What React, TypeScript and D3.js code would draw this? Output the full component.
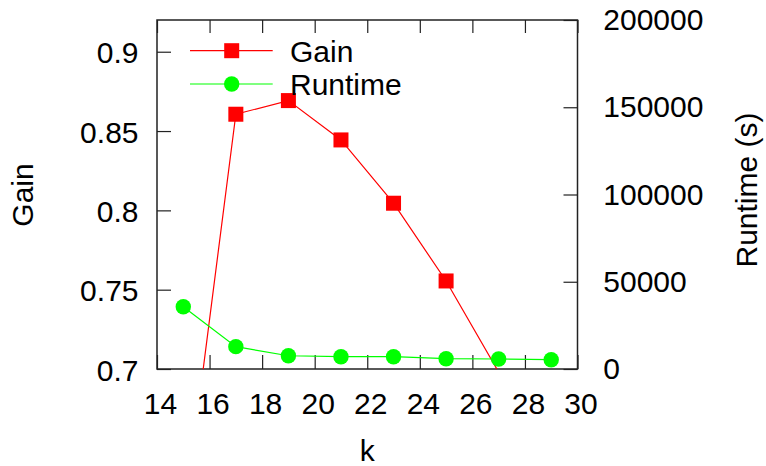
import { useEffect, useRef } from "react";
import * as d3 from "d3";

const kValues = [15, 17, 19, 21, 23, 25, 27, 29];
const gainValues = [0.602, 0.8606, 0.8692, 0.8444, 0.8045, 0.7555, 0.698, 0.65];
const runtimeValues = [35700, 12800, 7600, 7050, 7050, 5900, 5730, 5330];
const xTicks = [14, 16, 18, 20, 22, 24, 26, 28, 30];
const gainTicks = [0.7, 0.75, 0.8, 0.85, 0.9];
const runtimeTicks = [0, 50000, 100000, 150000, 200000];
const seriesNames = ["Gain", "Runtime"];

const FONT = "'Liberation Sans', Arial, Helvetica, sans-serif";
const FS = 30;

function App() {
  const ref = useRef<SVGSVGElement>(null);

  useEffect(() => {
    const svg = d3.select(ref.current);
    svg.selectAll("*").remove();
    const width = 766;
    const height = 466;
    const margin = { top: 20, right: 188.5, bottom: 97, left: 157 };
    const plotW = width - margin.left - margin.right;
    const plotH = height - margin.top - margin.bottom;

    const x = d3.scaleLinear().domain([14, 30]).range([margin.left, margin.left + plotW]);
    const yL = d3.scaleLinear().domain([0.7, 0.92]).range([margin.top + plotH, margin.top]);
    const yR = d3.scaleLinear().domain([0, 200000]).range([margin.top + plotH, margin.top]);

    const styleAxis = (g: d3.Selection<SVGGElement, unknown, null, undefined>) => {
      g.select(".domain").remove();
      g.selectAll(".tick line").attr("stroke", "#222").attr("stroke-width", 1.2);
      g.selectAll(".tick text").attr("fill", "#000");
      g.attr("font-size", FS).attr("font-family", FONT);
    };

    // axes
    svg
      .append("g")
      .attr("transform", `translate(0,${margin.top + plotH})`)
      .call(d3.axisBottom(x).tickValues(xTicks).tickSize(-14).tickPadding(23.5).tickFormat(d3.format("d")))
      .call(styleAxis)
      .call((g) => g.selectAll(".tick text").attr("dx", 3));
    svg
      .append("g")
      .attr("transform", `translate(0,${margin.top})`)
      .call(d3.axisTop(x).tickValues(xTicks).tickSize(-13).tickFormat(() => ""))
      .call(styleAxis);
    svg
      .append("g")
      .attr("transform", `translate(${margin.left},0)`)
      .call(d3.axisLeft(yL).tickValues(gainTicks).tickSize(-14).tickPadding(18.5).tickFormat((d) => String(d)))
      .call(styleAxis)
      .call((g) => g.selectAll(".tick text").attr("dy", "0.37em"));
    svg
      .append("g")
      .attr("transform", `translate(${margin.left + plotW},0)`)
      .call(d3.axisRight(yR).tickValues(runtimeTicks).tickSize(-14).tickPadding(25.8).tickFormat((d) => String(d)))
      .call(styleAxis);

    // frame
    svg
      .append("rect")
      .attr("x", margin.left)
      .attr("y", margin.top)
      .attr("width", plotW)
      .attr("height", plotH)
      .attr("fill", "none")
      .attr("stroke", "#222")
      .attr("stroke-width", 1.5);

    // axis titles
    svg
      .append("text")
      .attr("x", x(22))
      .attr("y", 461)
      .attr("text-anchor", "middle")
      .attr("font-size", FS)
      .attr("font-family", FONT)
      .text("k");
    svg
      .append("text")
      .attr("transform", `translate(33,195) rotate(-90)`)
      .attr("text-anchor", "middle")
      .attr("font-size", FS)
      .attr("font-family", FONT)
      .text("Gain");
    svg
      .append("text")
      .attr("transform", `translate(757,190) rotate(-90)`)
      .attr("text-anchor", "middle")
      .attr("font-size", FS)
      .attr("font-family", FONT)
      .text("Runtime (s)");

    svg
      .append("clipPath")
      .attr("id", "plot-clip")
      .append("rect")
      .attr("x", margin.left)
      .attr("y", margin.top)
      .attr("width", plotW)
      .attr("height", plotH);

    const plot = svg.append("g").attr("clip-path", "url(#plot-clip)");

    const gainPts = kValues.map((k, i) => [x(k), yL(gainValues[i])] as [number, number]);
    const runPts = kValues.map((k, i) => [x(k), yR(runtimeValues[i])] as [number, number]);
    const line = d3.line();

    plot.append("path").attr("d", line(gainPts)).attr("fill", "none").attr("stroke", "#ff0000").attr("stroke-width", 1.2);
    // points outside the axis range are not drawn
    plot
      .selectAll(".sq")
      .data(gainPts.filter((_, i) => gainValues[i] >= 0.7))
      .join("rect")
      .attr("class", "sq")
      .attr("x", (d) => d[0] - 7.5)
      .attr("y", (d) => d[1] - 7.5)
      .attr("width", 15)
      .attr("height", 15)
      .attr("fill", "#ff0000");

    plot.append("path").attr("d", line(runPts)).attr("fill", "none").attr("stroke", "#00ff00").attr("stroke-width", 1.2);
    plot
      .selectAll(".dot")
      .data(runPts)
      .join("circle")
      .attr("class", "dot")
      .attr("cx", (d) => d[0])
      .attr("cy", (d) => d[1])
      .attr("r", 7.7)
      .attr("fill", "#00ff00");

    // legend
    const legend = svg.append("g");
    const colors = ["#ff0000", "#00ff00"];
    seriesNames.forEach((name, i) => {
      const ly = 50.7 + i * 33.3;
      legend
        .append("line")
        .attr("x1", 190)
        .attr("x2", 272.7)
        .attr("y1", ly)
        .attr("y2", ly)
        .attr("stroke", colors[i])
        .attr("stroke-width", 1.2);
      if (i === 0) {
        legend.append("rect").attr("x", 231.7 - 7.5).attr("y", ly - 7.5).attr("width", 15).attr("height", 15).attr("fill", colors[i]);
      } else {
        legend.append("circle").attr("cx", 231.7).attr("cy", ly).attr("r", 7.7).attr("fill", colors[i]);
      }
      legend
        .append("text")
        .attr("x", 290)
        .attr("y", ly + 11)
        .attr("font-size", FS)
        .attr("font-family", FONT)
        .text(name);
    });
  }, []);

  return (
    <svg
      ref={ref}
      width={766}
      height={466}
      style={{ position: "absolute", left: 0, top: 0, background: "#fff" }}
    />
  );
}

export default App;
